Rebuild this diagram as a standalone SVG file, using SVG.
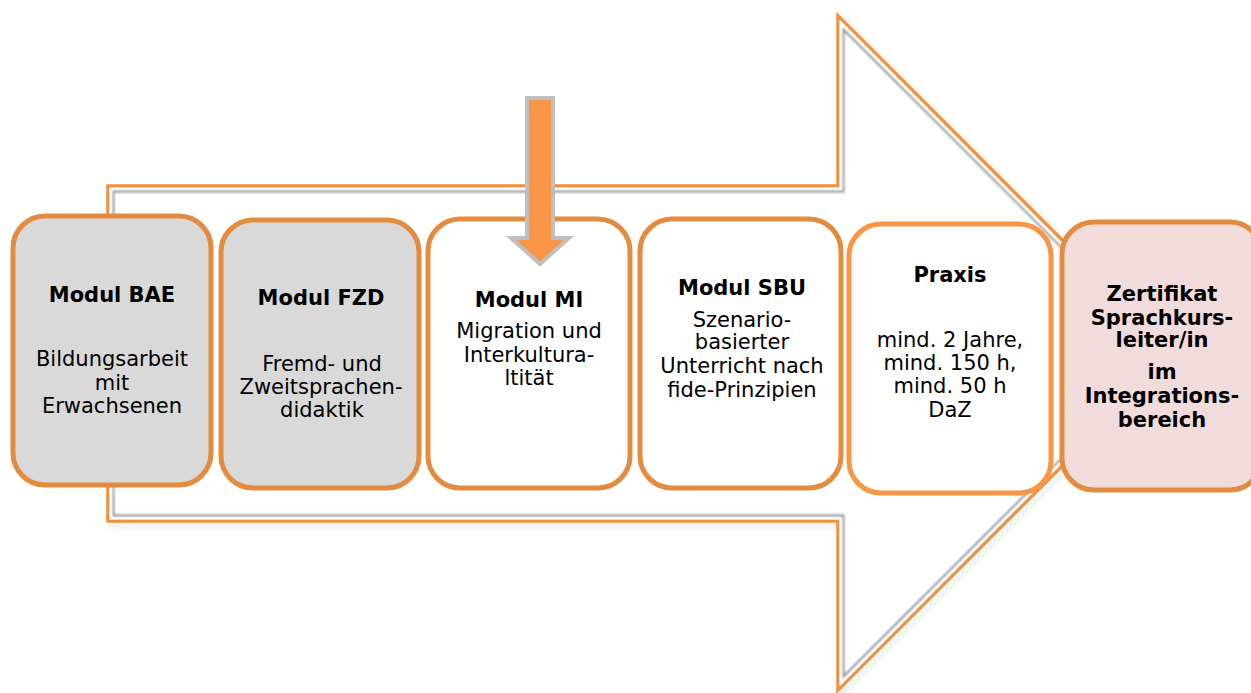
<svg xmlns="http://www.w3.org/2000/svg" width="1251" height="693" viewBox="0 0 1251 693">
<style>
  .box { stroke: #E38B3F; stroke-width: 5; }
  .gray { fill: #D9D9D9; }
  .white { fill: #FFFFFF; }
  .pink { fill: #F2DCDB; }
  text { font-family: "DejaVu Sans", Verdana, sans-serif; font-size: 21px; fill: #000; text-anchor: middle; }
  .b { font-weight: bold; }
</style>
<defs>
  <filter id="soft" x="-5%" y="-5%" width="110%" height="110%">
    <feGaussianBlur stdDeviation="1.2"/>
  </filter>
  <filter id="shadow" x="-5%" y="-5%" width="110%" height="110%">
    <feGaussianBlur stdDeviation="3"/>
  </filter>
</defs>
<rect width="1251" height="693" fill="#FFFFFF"/>
<g id="connectors">
  <g id="big-arrow">
    <polygon points="112,190 842,190 842,20 1179,357 842,694 842,525 112,525" fill="none" stroke="#BFBFBF" stroke-width="3" opacity="0.5" filter="url(#shadow)"/>
    <polygon points="108,186 838,186 838,16 1175,353 838,690 838,521 108,521" fill="#FFFFFF" stroke="#F0913F" stroke-width="3.5" stroke-linejoin="miter"/>
    <polygon points="113.5,191.5 843.5,191.5 843.5,29.5 1167,353 843.5,676.5 843.5,515.5 113.5,515.5" fill="none" stroke="#8C8C8C" stroke-width="1.8" filter="url(#soft)"/>
    <polygon points="110.5,188.5 840.5,188.5 840.5,22 1171,353 840.5,684 840.5,518.5 110.5,518.5" fill="none" stroke="#FFFFFF" stroke-width="2"/>
  </g>
</g>
<g id="node-bae">
  <rect class="box gray" x="13" y="216" width="198" height="269" rx="32"/>
  <text class="b" x="112" y="302">Modul BAE</text>
  <text x="112" y="366">Bildungsarbeit</text>
  <text x="112" y="390">mit</text>
  <text x="112" y="413">Erwachsenen</text>
</g>
<g id="node-fzd">
  <rect class="box gray" x="221" y="220" width="198" height="268" rx="32"/>
  <text class="b" x="321" y="305">Modul FZD</text>
  <text x="322" y="371">Fremd- und</text>
  <text x="321" y="394">Zweitsprachen-</text>
  <text x="322" y="417">didaktik</text>
</g>
<g id="node-mi">
  <rect class="box white" x="428" y="219" width="202" height="269" rx="32"/>
  <text class="b" x="529" y="307">Modul MI</text>
  <text x="529" y="338">Migration und</text>
  <text x="529" y="362">Interkultura-</text>
  <text x="529" y="385">ltität</text>
</g>
<g id="node-sbu">
  <rect class="box white" x="640" y="219" width="201" height="269" rx="32"/>
  <text class="b" x="742" y="295">Modul SBU</text>
  <text x="742" y="327">Szenario-</text>
  <text x="742" y="349">basierter</text>
  <text x="742" y="373">Unterricht nach</text>
  <text x="742" y="397">fide-Prinzipien</text>
</g>
<g id="node-praxis">
  <rect class="white" x="849" y="224" width="202" height="269" rx="32" stroke="#F79646" stroke-width="5"/>
  <text class="b" x="950" y="282">Praxis</text>
  <text x="950" y="347">mind. 2 Jahre,</text>
  <text x="950" y="370">mind. 150 h,</text>
  <text x="950" y="393">mind. 50 h</text>
  <text x="950" y="417">DaZ</text>
</g>
<g id="node-zertifikat">
  <rect class="box pink" x="1062" y="222" width="200" height="268" rx="32"/>
  <text class="b" x="1162" y="301">Zertifikat</text>
  <text class="b" x="1162" y="325">Sprachkurs-</text>
  <text class="b" x="1162" y="347">leiter/in</text>
  <text class="b" x="1162" y="379">im</text>
  <text class="b" x="1162" y="403">Integrations-</text>
  <text class="b" x="1162" y="427">bereich</text>
</g>
<g id="down-arrow">
  <polygon points="527,98 553,98 553,238 569,238 540,264 511,238 527,238" fill="#F79646" stroke="#BFBFBF" stroke-width="4" stroke-linejoin="miter"/>
</g>
</svg>
